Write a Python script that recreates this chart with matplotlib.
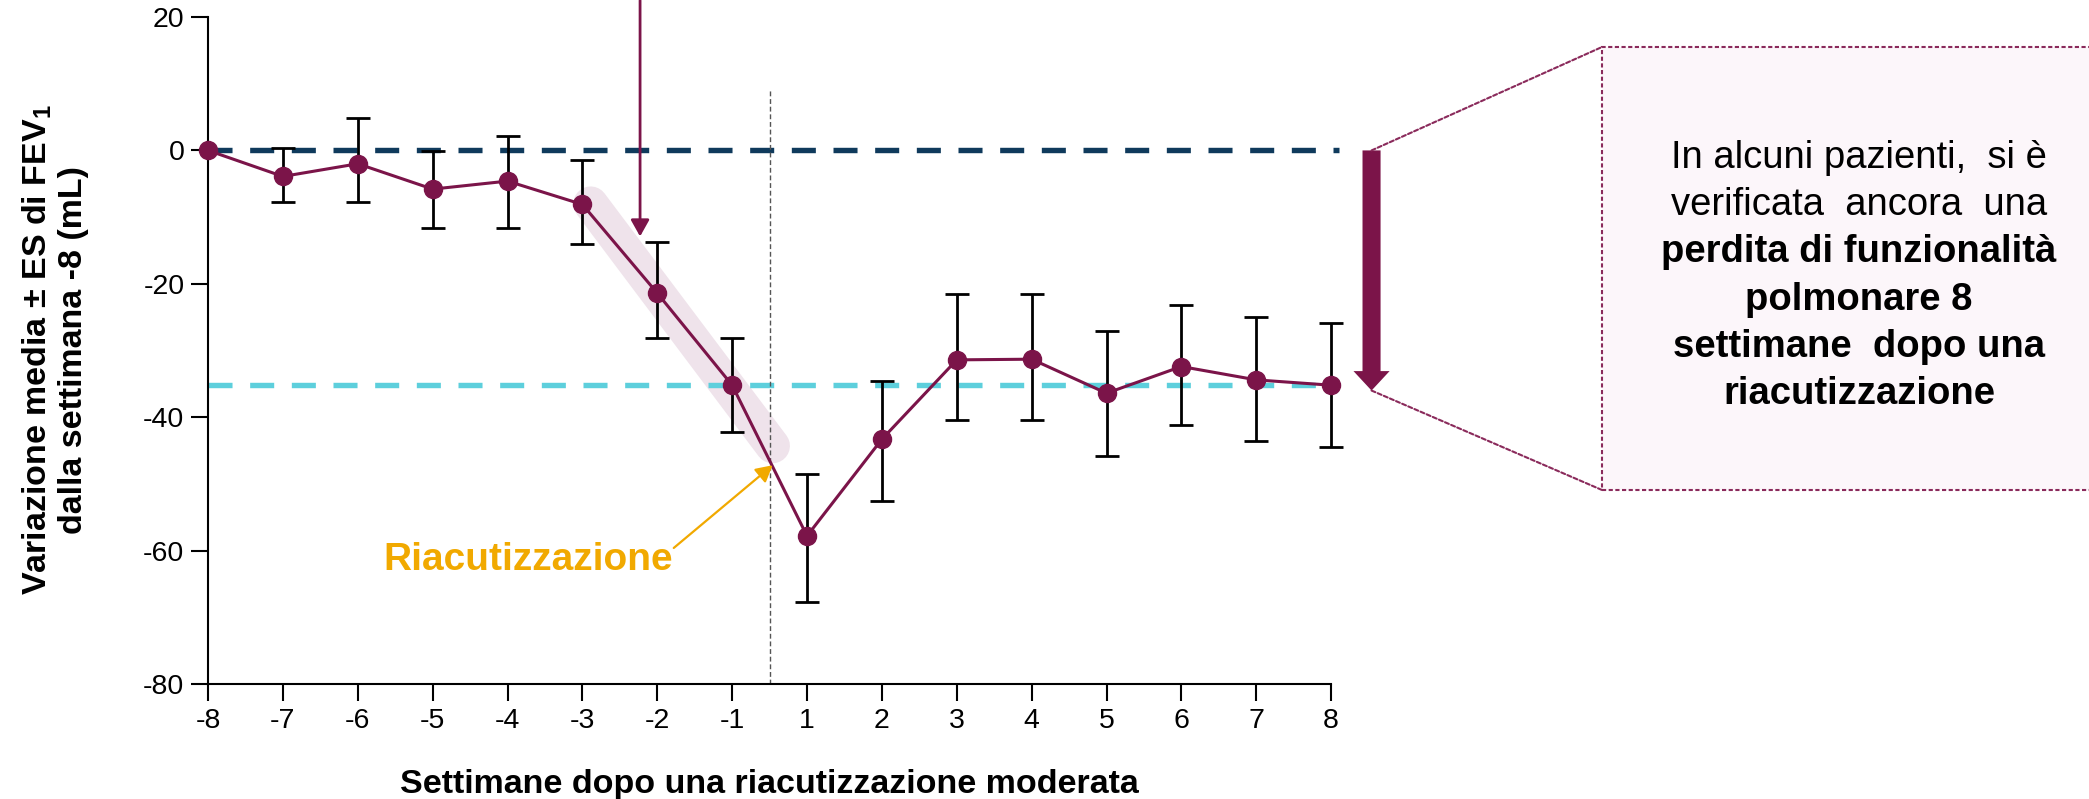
import matplotlib
matplotlib.use("Agg")
import matplotlib.pyplot as plt
import numpy as np
from matplotlib.patches import Rectangle, FancyArrowPatch, ConnectionPatch

plt.rcParams['font.family'] = ['Liberation Sans', 'DejaVu Sans']
plt.rcParams['lines.scale_dashes'] = False
plt.rcParams['axes.unicode_minus'] = False
plt.rcParams['mathtext.fontset'] = 'custom'
plt.rcParams['mathtext.rm'] = 'Liberation Sans'
plt.rcParams['mathtext.bf'] = 'Liberation Sans:bold'

# Weeks relative to a moderate exacerbation (no week 0)
weeks = [-8, -7, -6, -5, -4, -3, -2, -1, 1, 2, 3, 4, 5, 6, 7, 8]
# Mean change in FEV1 from week -8 (mL)
mean_change = [0.0, -3.9, -2.0, -5.8, -4.6, -8.1, -21.4, -35.2,
               -57.8, -43.3, -31.4, -31.3, -36.4, -32.4, -34.4, -35.2]
# Mean - SE and mean + SE (mL); week -8 is the reference
se_low = [np.nan, -7.8, -7.8, -11.7, -11.7, -14.0, -28.1, -42.2,
          -67.7, -52.5, -40.4, -40.4, -45.8, -41.2, -43.5, -44.4]
se_high = [np.nan, 0.4, 4.9, -0.1, 2.1, -1.5, -13.7, -28.1,
           -48.5, -34.5, -21.5, -21.5, -27.0, -23.2, -24.9, -25.8]
baseline_level = 0.0
final_level = mean_change[-1]

ytick_values = [20, 0, -20, -40, -60, -80]

MAROON = '#7b1449'
NAVY = '#0f3a5c'
CYAN = '#5dcfdc'
ORANGE = '#f1a900'
BAND = '#efe3eb'

fig = plt.figure(figsize=(20.89, 7.99), dpi=100)
ax = fig.add_axes([0.0996, 0.1439, 0.5376, 0.8348])

x = np.arange(len(weeks))
mean = np.array(mean_change)
yerr = np.vstack([mean - np.array(se_low), np.array(se_high) - mean])

# Highlighted decline before the exacerbation
ax.plot([5.11, 7.54], [-8.0, -44.3], color=BAND, lw=25,
        solid_capstyle='round', zorder=1)

# Reference levels
ax.hlines(baseline_level, 0, 15.1, colors=NAVY, lw=3.9,
          linestyles=(0, (17.3, 12.7)), zorder=2, clip_on=False)
ax.hlines(final_level, 0, 15.05, colors=CYAN, lw=3.9,
          linestyles=(0, (17.3, 12.7)), zorder=2, clip_on=False)

# Exacerbation onset
ax.vlines(7.5, -80, 9.1, colors='#555555', lw=1.0,
          linestyles=(0, (3.5, 2.0)), zorder=2)

eb = ax.errorbar(x, mean, yerr=yerr, fmt='none', ecolor='black', elinewidth=2,
                 capsize=8.3, capthick=2, zorder=3)
for cap in eb.lines[1]:
    cap.set_clip_on(False)
for col in eb.lines[2]:
    col.set_clip_on(False)
ax.plot(x, mean, color=MAROON, lw=2.2, marker='o', markersize=13,
        zorder=4, clip_on=False)

ax.set_xlim(0, 15)
ax.set_ylim(-80, 20)
ax.set_xticks(x)
ax.set_xticklabels([str(w) for w in weeks])
ax.set_yticks(ytick_values)
ax.set_yticklabels([str(v) for v in ytick_values])
ax.tick_params(axis='both', direction='out', length=12, width=1.5,
               labelsize=20.5, pad=5, colors='black')
for side in ['top', 'right']:
    ax.spines[side].set_visible(False)
for side in ['left', 'bottom']:
    ax.spines[side].set_linewidth(1.5)
    ax.spines[side].set_color('black')

# Thin arrow marking the start of the decline
ax.annotate('', xy=(5.77, -12.9), xytext=(5.77, 22.5),
            arrowprops=dict(arrowstyle='-|>,head_length=0.5,head_width=0.28',
                            mutation_scale=20, color=MAROON, lw=2,
                            shrinkA=0, shrinkB=0),
            annotation_clip=False, zorder=5)

# Exacerbation label
ax.text(6.21, -62.9, 'Riacutizzazione', color=ORANGE, fontsize=28,
        fontweight='bold', ha='right', va='baseline', zorder=5)
ax.annotate('', xy=(7.54, -47.2), xytext=(6.22, -59.6),
            arrowprops=dict(arrowstyle='-|>,head_length=0.55,head_width=0.3',
                            mutation_scale=18, color=ORANGE, lw=1.6,
                            shrinkA=0, shrinkB=0),
            annotation_clip=False, zorder=5)

# Thick arrow showing the sustained loss
arrow_x = 15.54
arrow_tip = -36.0
big_arrow = FancyArrowPatch((arrow_x, baseline_level), (arrow_x, arrow_tip),
                            arrowstyle='simple,head_width=26,head_length=14,tail_width=13',
                            mutation_scale=1, color=MAROON, lw=0,
                            shrinkA=0, shrinkB=0, clip_on=False, zorder=5)
ax.add_patch(big_arrow)

# Callout box
box_x0, box_y0, box_y1 = 0.7669, 0.3867, 0.9412
box = Rectangle((box_x0, box_y0), 0.30, box_y1 - box_y0,
                transform=fig.transFigure, facecolor='#fcf6fa',
                edgecolor='#8a2a5b', lw=1.5, linestyle=(0, (3.0, 1.8)),
                clip_on=False, zorder=0)
fig.add_artist(box)
for y_data, y_fig in [(baseline_level, box_y1), (arrow_tip, box_y0)]:
    con = ConnectionPatch(xyA=(arrow_x, y_data), coordsA=ax.transData,
                          xyB=(box_x0, y_fig), coordsB=fig.transFigure,
                          color='#8a2a5b', lw=1.5, linestyle=(0, (3.0, 1.8)))
    fig.add_artist(con)

box_lines = [
    ('In alcuni pazienti,  si è', 'normal'),
    ('verificata  ancora  una', 'normal'),
    ('perdita di funzionalità', 'bold'),
    ('polmonare 8', 'bold'),
    ('settimane  dopo una', 'bold'),
    ('riacutizzazione', 'bold'),
]
for i, (line, weight) in enumerate(box_lines):
    yb = 1 - (167.5 + i * 47.4) / 799
    fig.text(0.8899, yb, line, ha='center', va='baseline', fontsize=27.5,
             fontweight=weight, color='black')

# Axis titles
fig.text(0.0263, 0.562,
         'Variazione media ± ES di FEV$_{\\mathregular{1}}$\ndalla settimana -8 (mL)',
         rotation=90, ha='center', va='center', multialignment='center',
         fontsize=24.5, fontweight='bold', linespacing=1.15)
fig.text(0.3684, 0.0075, 'Settimane dopo una riacutizzazione moderata',
         ha='center', va='baseline', fontsize=24.5, fontweight='bold')

fig.savefig('out.png', dpi=100)
